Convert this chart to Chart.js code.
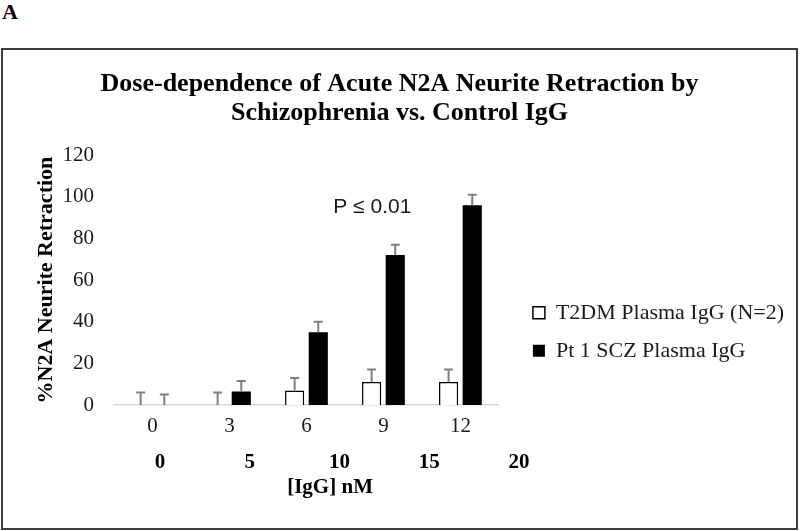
<!DOCTYPE html>
<html>
<head>
<meta charset="utf-8">
<script src="https://cdn.jsdelivr.net/npm/chart.js@4.4.1/dist/chart.umd.min.js"></script>
<style>
  body { margin: 0; background: #fff; }
  #panel-label {
    position: absolute; left: 2px; top: 1px;
    font: bold 22px "Liberation Serif"; line-height: 22px; color: #000;
  }
  #frame {
    position: absolute; left: 1px; top: 48px; width: 797px; height: 482px;
    border: 2px solid #3c3c3c; box-sizing: border-box;
  }
  #frame canvas { display: block; }
</style>
</head>
<body>
<div id="panel-label">A</div>
<div id="frame"><canvas id="dose-chart" width="793" height="478"></canvas></div>
<script>
// values
const doses = ['0', '3', '6', '9', '12'];
const t2dmValues = [0, 0, 7, 11, 11];
const t2dmErrors = [6, 6, 6, 6, 6];
const sczValues = [0, 6.5, 35, 72, 96];
const sczErrors = [5, 5, 5, 5, 5];
const concTicks = [0, 5, 10, 15, 20];
const pLabel = { text: 'P \u2264 0.01', x: 2.855, y: 95 };

Chart.defaults.font.family = '"Liberation Serif", "Times New Roman", serif';
Chart.defaults.color = '#1a1a1a';

// upper-only error bars, like the excel original
const errorBars = {
    id: 'errorBars',
    afterDatasetsDraw(chart) {
        const ctx = chart.ctx;
        const y = chart.scales.y;
        const errs = [t2dmErrors, sczErrors];
        ctx.save();
        ctx.strokeStyle = '#7f7f7f';
        ctx.lineWidth = 2;
        chart.data.datasets.forEach((ds, di) => {
            chart.getDatasetMeta(di).data.forEach((bar, i) => {
                const top = y.getPixelForValue(ds.data[i] + errs[di][i]);
                ctx.beginPath();
                ctx.moveTo(bar.x, bar.y);
                ctx.lineTo(bar.x, top);
                ctx.moveTo(bar.x - 4.5, top);
                ctx.lineTo(bar.x + 4.5, top);
                ctx.stroke();
            });
        });
        ctx.restore();
    }
};

const pValueText = {
    id: 'pValueText',
    afterDraw(chart) {
        const ctx = chart.ctx;
        ctx.save();
        ctx.font = '21px "Liberation Sans", Arial, sans-serif';
        ctx.fillStyle = '#1a1a1a';
        ctx.textAlign = 'center';
        ctx.textBaseline = 'middle';
        ctx.fillText(pLabel.text, chart.scales.x.getPixelForValue(pLabel.x), chart.scales.y.getPixelForValue(pLabel.y));
        ctx.restore();
    }
};

const doseChart = new Chart(document.getElementById('dose-chart'), {
    type: 'bar',
    data: {
        labels: doses,
        datasets: [{
            label: 'T2DM Plasma IgG (N=2)',
            data: t2dmValues,
            backgroundColor: '#ffffff',
            borderColor: '#000000',
            borderWidth: 1.5
        }, {
            label: 'Pt 1 SCZ Plasma IgG',
            data: sczValues,
            backgroundColor: '#000000',
            borderColor: '#000000',
            borderWidth: 0
        }]
    },
    options: {
        responsive: false,
        animation: false,
        categoryPercentage: 0.614,
        barPercentage: 0.81,
        layout: {
            padding: { left: 2, right: 2, top: 0, bottom: 28 }
        },
        plugins: {
            tooltip: { enabled: false },
            title: {
                display: true,
                text: ['Dose-dependence of Acute N2A Neurite Retraction by', 'Schizophrenia vs. Control IgG'],
                color: '#000',
                font: { size: 26, weight: 'bold', lineHeight: 1.1 },
                padding: { top: 20, bottom: 28 }
            },
            legend: {
                position: 'right',
                align: 'center',
                fullSize: false,
                maxWidth: 320,
                title: { display: true, text: '', font: { size: 12 }, padding: { top: 89, bottom: 0 } },
                labels: {
                    boxWidth: 12,
                    boxHeight: 12,
                    padding: 16,
                    color: '#1a1a1a',
                    font: { size: 22 }
                }
            }
        },
        scales: {
            x: {
                type: 'category',
                grid: { display: false, drawTicks: false, tickLength: 0 },
                border: { display: true, color: '#d9d9d9', width: 1.5 },
                ticks: { padding: 9, maxRotation: 0, color: '#1a1a1a', font: { size: 21 } },
                afterFit: scale => { scale.height = 35; }
            },
            x2: {
                type: 'linear',
                position: 'bottom',
                bounds: 'data',
                offset: false,
                min: -2.56,
                max: 18.88,
                afterBuildTicks: scale => { scale.ticks = concTicks.map(v => ({ value: v })); },
                grid: { display: false, drawTicks: false, tickLength: 0 },
                border: { display: false },
                ticks: { autoSkip: false, maxRotation: 0, padding: 10, color: '#000', font: { size: 21, weight: 'bold' } },
                title: {
                    display: true,
                    text: '         [IgG] nM',
                    color: '#000',
                    font: { size: 21, weight: 'bold' },
                    padding: { top: 0, bottom: 0 }
                },
                afterFit: scale => { scale.height = 60; }
            },
            y: {
                min: 0,
                max: 120,
                grid: { display: false, drawTicks: false, tickLength: 0 },
                border: { display: false },
                ticks: { stepSize: 20, padding: 20, color: '#1a1a1a', font: { size: 21 } },
                title: {
                    display: true,
                    text: '%N2A Neurite Retraction',
                    color: '#000',
                    font: { size: 22, weight: 'bold' },
                    padding: { top: 28, bottom: 3 }
                },
                afterFit: scale => { scale.width = 109; }
            },
            // empty right-hand axis: only keeps the legend away from the bars
            gap: {
                type: 'linear',
                position: 'right',
                display: true,
                grid: { display: false, drawTicks: false, tickLength: 0 },
                border: { display: false },
                ticks: { display: false },
                afterFit: scale => { scale.width = 18; }
            }
        }
    },
    plugins: [errorBars, pValueText]
});
</script>
</body>
</html>
